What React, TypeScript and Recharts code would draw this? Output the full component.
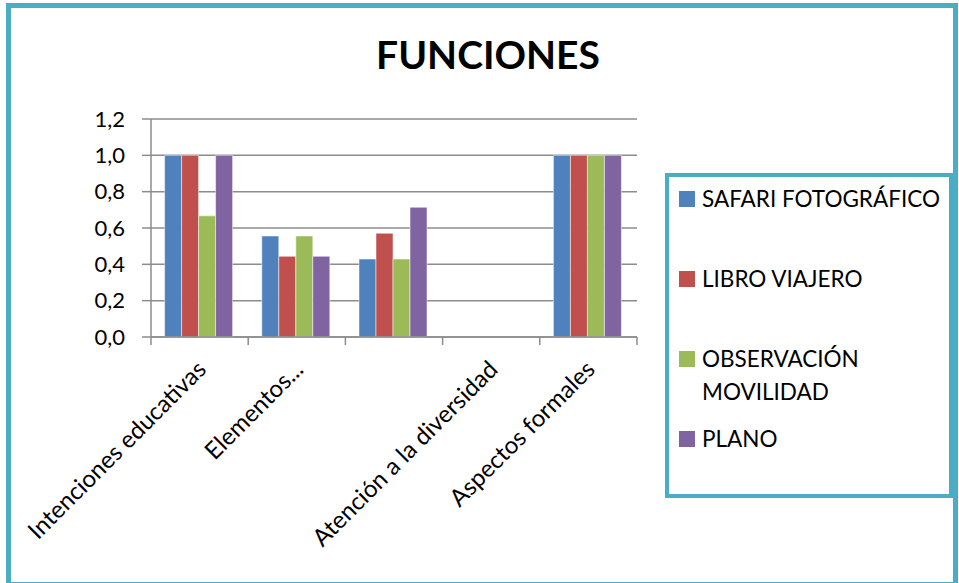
import { Bar, BarChart, CartesianGrid, XAxis, YAxis } from "recharts";

const CATEGORIES = [
  "Intenciones educativas",
  "Elementos...",
  "",
  "Atención a la diversidad",
  "Aspectos formales",
];

const SAFARI = [1, 0.556, 0.429, 0, 1];
const LIBRO = [1, 0.444, 0.571, 0, 1];
const OBSERVACION = [0.667, 0.556, 0.429, 0, 1];
const PLANO = [1, 0.444, 0.714, 0, 1];

const Y_TICKS = [0, 0.2, 0.4, 0.6, 0.8, 1.0, 1.2];

const SERIES = [
  { key: "safari", label: ["SAFARI FOTOGRÁFICO"], color: "#4F81BD", values: SAFARI },
  { key: "libro", label: ["LIBRO VIAJERO"], color: "#C0504D", values: LIBRO },
  { key: "obs", label: ["OBSERVACIÓN", "MOVILIDAD"], color: "#9BBB59", values: OBSERVACION },
  { key: "plano", label: ["PLANO"], color: "#8064A2", values: PLANO },
];

const data = CATEGORIES.map((name, i) => {
  const row: Record<string, string | number> = { name };
  SERIES.forEach((s) => {
    row[s.key] = s.values[i];
  });
  return row;
});

const FONT = "Lato, 'Open Sans', sans-serif";
const TEAL = "#4BACC6";
const GRID = "#8C8C8C";

function CategoryTick(props: any) {
  const { x, y, payload, index } = props;
  const half = payload?.offset ?? 48.6;
  const last = index === CATEGORIES.length - 1;
  const ax = x + 8;
  const ay = y + 26;
  return (
    <g>
      <line x1={x - half} y1={y - 8} x2={x - half} y2={y} stroke={GRID} strokeWidth={1.5} />
      {last ? (
        <line x1={x + half} y1={y - 8} x2={x + half} y2={y} stroke={GRID} strokeWidth={1.5} />
      ) : null}
      <text
        x={ax}
        y={ay}
        textAnchor="end"
        fontSize={24}
        fontFamily={FONT}
        fill="#000"
        transform={`rotate(-45, ${ax}, ${ay})`}
      >
        {payload.value}
      </text>
    </g>
  );
}

export default function App() {
  return (
    <div
      style={{
        position: "absolute",
        left: 0,
        top: 0,
        width: 959,
        height: 583,
        background: "#fff",
        overflow: "hidden",
        fontFamily: FONT,
      }}
    >
      <div
        style={{
          position: "absolute",
          left: 6,
          top: 3,
          width: 952,
          height: 584,
          border: `5px solid ${TEAL}`,
          boxSizing: "border-box",
        }}
      />
      <div
        style={{
          position: "absolute",
          left: 0,
          top: 29,
          width: 976,
          textAlign: "center",
          fontSize: 39,
          fontWeight: 700,
          lineHeight: "50px",
          color: "#000",
        }}
      >
        FUNCIONES
      </div>
      <div style={{ position: "absolute", left: 0, top: 0 }}>
        <BarChart
          width={959}
          height={583}
          data={data}
          margin={{ top: 119, right: 322, bottom: 46, left: 91 }}
          barCategoryGap="14%"
          barGap={0}
        >
          <CartesianGrid vertical={false} stroke={GRID} strokeWidth={1.5} />
          <XAxis
            dataKey="name"
            interval={0}
            height={200}
            axisLine={{ stroke: GRID, strokeWidth: 1.5 }}
            tickLine={false}
            tick={<CategoryTick />}
          />
          <YAxis
            domain={[0, 1.2]}
            ticks={Y_TICKS}
            width={60}
            axisLine={{ stroke: GRID, strokeWidth: 1.5 }}
            tickLine={{ stroke: GRID, strokeWidth: 1.5 }}
            tickSize={9}
            tickMargin={17}
            tick={{ fontSize: 22, fill: "#000", fontFamily: FONT }}
            tickFormatter={(v: number) => v.toFixed(1).replace(".", ",")}
          />
          {SERIES.map((s) => (
            <Bar
              key={s.key}
              dataKey={s.key}
              fill={s.color}
              stroke="#fff"
              strokeWidth={0.5}
              isAnimationActive={false}
            />
          ))}
        </BarChart>
      </div>
      <div
        style={{
          position: "absolute",
          left: 665,
          top: 173,
          width: 288,
          height: 325,
          border: `4px solid ${TEAL}`,
          boxSizing: "border-box",
          paddingTop: 5,
        }}
      >
        {SERIES.map((s) => (
          <div
            key={s.key}
            style={{ display: "flex", alignItems: "flex-start", height: 80, paddingLeft: 10 }}
          >
            <div
              style={{
                width: 16,
                height: 16,
                background: s.color,
                marginTop: 9,
                marginRight: 7,
                flexShrink: 0,
              }}
            />
            <div style={{ fontSize: 22.5, lineHeight: "33px", color: "#000", whiteSpace: "nowrap" }}>
              {s.label.map((l) => (
                <div key={l}>{l}</div>
              ))}
            </div>
          </div>
        ))}
      </div>
    </div>
  );
}
